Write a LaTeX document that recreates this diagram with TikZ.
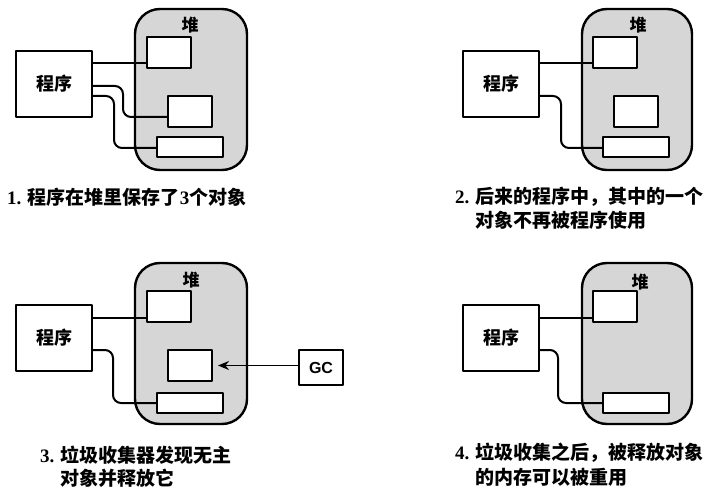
\documentclass[tikz,border=0pt]{standalone}
\usepackage{fontspec}
\usetikzlibrary{arrows.meta}
\newfontfamily\cjk{Noto Sans CJK SC}
\newfontfamily\latserif{Liberation Serif}
\newfontfamily\latsans{Liberation Sans}
\begin{document}
\begin{tikzpicture}[x=1pt,y=-1pt,line join=round,
  heap/.style={draw,line width=2.4pt,fill=black!16,rounded corners=25pt,minimum width=112pt,minimum height=161pt,inner sep=0pt},
  objbox/.style={draw,line width=2pt,fill=white,inner sep=0pt},
  progbox/.style={draw,line width=2pt,fill=white,inner sep=0pt,minimum width=76pt,minimum height=66pt,font=\cjk\bfseries\fontsize{18pt}{20pt}\selectfont},
  heaplabel/.style={inner sep=0pt,font=\cjk\bfseries\fontsize{17pt}{19pt}\selectfont},
  link/.style={line width=2pt,rounded corners=8pt},
  capline/.style={anchor=west,inner sep=0pt,font=\cjk\bfseries\fontsize{19pt}{22pt}\selectfont},
  gcbox/.style={draw,line width=2pt,fill=white,inner sep=0pt,minimum width=44pt,minimum height=35pt,font=\latsans\bfseries\fontsize{16pt}{18pt}\selectfont}]
\useasboundingbox (0,0) rectangle (711,489);
% ---------- panel 1
\begin{scope}[name prefix=a-]
\node[heap] (heap) at (191,89.5) {};
\node[heaplabel] (hl) at (190,25) {堆};
\node[progbox] (prog) at (54,84) {程序};
\draw[link] (prog.east |- 0,63) -- (147,63);
\draw[link] (prog.east |- 0,86) -- (123,86) -- (123,117) -- (168,117);
\draw[link] (prog.east |- 0,96) -- (114,96) -- (114,148) -- (157,148);
\node[objbox,minimum width=44pt,minimum height=31pt] (o1) at (169,52.5) {};
\node[objbox,minimum width=44pt,minimum height=31pt] (o2) at (190,111.5) {};
\node[objbox,minimum width=66pt,minimum height=20pt] (o3) at (190,147) {};
\end{scope}
% ---------- panel 2
\begin{scope}[shift={(447,0)},name prefix=b-]
\node[heap,minimum width=110pt] (heap) at (190,89.5) {};
\node[heaplabel] (hl) at (191,25) {堆};
\node[progbox] (prog) at (54,84) {程序};
\draw[link] (prog.east |- 0,63) -- (146,63);
\draw[link] (prog.east |- 0,96) -- (114,96) -- (114,148) -- (157,148);
\node[objbox,minimum width=44pt,minimum height=31pt] (o1) at (168,52.5) {};
\node[objbox,minimum width=44pt,minimum height=31pt] (o2) at (189,111.5) {};
\node[objbox,minimum width=66pt,minimum height=20pt] (o3) at (189,147) {};
\end{scope}
% ---------- panel 3
\begin{scope}[shift={(0,254)},name prefix=c-]
\node[heap] (heap) at (191,89.5) {};
\node[heaplabel] (hl) at (191,26) {堆};
\node[progbox] (prog) at (54,84) {程序};
\draw[link] (prog.east |- 0,64) -- (147,64);
\draw[link] (prog.east |- 0,96) -- (113,96) -- (113,149) -- (157,149);
\node[objbox,minimum width=44pt,minimum height=31pt] (o1) at (169,52.5) {};
\node[objbox,minimum width=44pt,minimum height=31pt] (o2) at (190,111.5) {};
\node[objbox,minimum width=66pt,minimum height=20pt] (o3) at (190,149) {};
\node[gcbox] (gc) at (321,113.5) {GC};
\draw[line width=1.8pt,-{Stealth[length=11pt,width=9pt]}] (gc.west |- o2.east) -- ([xshift=5pt]o2.east);
\end{scope}
% ---------- panel 4
\begin{scope}[shift={(447,254)},name prefix=d-]
\node[heap,minimum width=110pt] (heap) at (190,89.5) {};
\node[heaplabel] (hl) at (193,28) {堆};
\node[progbox] (prog) at (54,84) {程序};
\draw[link] (prog.east |- 0,64) -- (146,64);
\draw[link] (prog.east |- 0,96) -- (111,96) -- (111,149) -- (157,149);
\node[objbox,minimum width=44pt,minimum height=31pt] (o1) at (168,52.5) {};
\node[objbox,minimum width=66pt,minimum height=20pt] (o3) at (189,149) {};
\end{scope}
% ---------- captions
\node[capline] (cap1) at (7,197) {{\latserif\bfseries 1. }程序在堆里保存了{\latserif\bfseries 3}个对象};
\node[capline] (cap2a) at (455,197) {\makebox[20pt][l]{\latserif\bfseries 2.}后来的程序中，其中的一个};
\node[capline] (cap2b) at (475,220) {对象不再被程序使用};
\node[capline] (cap3a) at (40,455) {\makebox[20pt][l]{\latserif\bfseries 3.}垃圾收集器发现无主};
\node[capline] (cap3b) at (60,478) {对象并释放它};
\node[capline] (cap4a) at (455,453) {\makebox[20pt][l]{\latserif\bfseries 4.}垃圾收集之后，被释放对象};
\node[capline] (cap4b) at (475,477) {的内存可以被重用};
\end{tikzpicture}
\end{document}
